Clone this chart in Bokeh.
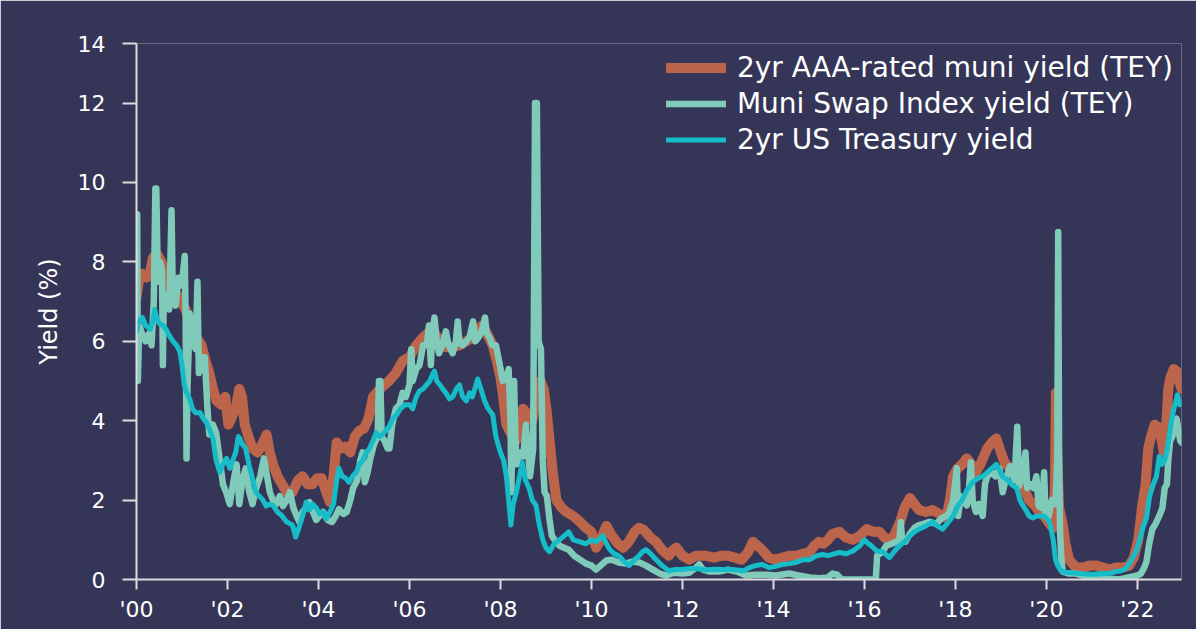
from bokeh.plotting import figure
from bokeh.models import Range1d, FixedTicker, Legend, LegendItem
from bokeh.embed import file_html
from bokeh.resources import INLINE

# ---------------- data (decimal year, yield %) ----------------
muni_aaa_2yr = [
    (2000.00, 7.1), (2000.05, 7.5), (2000.13, 7.7), (2000.22, 7.6), (2000.29, 7.7),
    (2000.36, 8.1), (2000.45, 8.2), (2000.55, 8.0), (2000.62, 7.6), (2000.68, 7.2),
    (2000.78, 7.4), (2000.88, 7.2), (2000.98, 7.0), (2001.08, 6.8), (2001.20, 6.4),
    (2001.32, 6.1), (2001.43, 5.9), (2001.52, 5.5), (2001.60, 5.2), (2001.68, 4.8),
    (2001.76, 4.5), (2001.86, 4.4), (2001.95, 4.6), (2002.02, 3.9), (2002.10, 4.1),
    (2002.18, 4.3), (2002.26, 4.8), (2002.32, 4.6), (2002.38, 3.9), (2002.46, 3.6),
    (2002.55, 3.3), (2002.66, 3.2), (2002.76, 3.4), (2002.86, 3.65), (2002.93, 3.2),
    (2003.00, 2.9), (2003.10, 2.6), (2003.20, 2.4), (2003.30, 2.2), (2003.43, 2.2),
    (2003.55, 2.5), (2003.65, 2.6), (2003.76, 2.4), (2003.87, 2.4), (2003.97, 2.55),
    (2004.07, 2.55), (2004.17, 2.2), (2004.25, 1.95), (2004.33, 2.6), (2004.40, 3.45),
    (2004.50, 3.3), (2004.60, 3.35), (2004.70, 3.2), (2004.80, 3.6), (2004.90, 3.75),
    (2005.00, 3.8), (2005.10, 4.05), (2005.20, 4.6), (2005.35, 4.8), (2005.55, 5.0),
    (2005.70, 5.2), (2005.85, 5.5), (2006.00, 5.6), (2006.15, 5.9), (2006.30, 6.1),
    (2006.45, 6.25), (2006.55, 6.2), (2006.68, 6.0), (2006.80, 5.85), (2006.95, 5.85),
    (2007.10, 5.9), (2007.25, 6.0), (2007.40, 6.1), (2007.52, 6.3), (2007.60, 6.4),
    (2007.70, 6.2), (2007.83, 5.9), (2007.92, 5.5), (2008.00, 5.1), (2008.07, 4.5),
    (2008.13, 3.9), (2008.22, 3.7), (2008.35, 3.5), (2008.42, 3.9), (2008.50, 4.3),
    (2008.60, 4.1), (2008.70, 4.0), (2008.80, 4.6), (2008.88, 5.0), (2008.95, 4.8),
    (2009.02, 4.2), (2009.08, 3.5), (2009.15, 2.7), (2009.23, 2.0), (2009.35, 1.8),
    (2009.45, 1.7), (2009.60, 1.6), (2009.75, 1.45), (2009.88, 1.3), (2010.00, 1.2),
    (2010.10, 0.8), (2010.20, 1.0), (2010.33, 1.35), (2010.45, 1.1), (2010.58, 0.9),
    (2010.70, 0.8), (2010.82, 0.95), (2010.95, 1.2), (2011.05, 1.3), (2011.15, 1.25),
    (2011.30, 1.05), (2011.42, 0.95), (2011.55, 0.75), (2011.70, 0.6), (2011.80, 0.75),
    (2011.87, 0.8), (2012.00, 0.6), (2012.15, 0.5), (2012.30, 0.6), (2012.50, 0.6),
    (2012.70, 0.55), (2012.85, 0.6), (2013.00, 0.6), (2013.15, 0.55), (2013.30, 0.5),
    (2013.45, 0.7), (2013.55, 0.95), (2013.65, 0.85), (2013.75, 0.75), (2013.90, 0.55),
    (2014.05, 0.5), (2014.20, 0.55), (2014.35, 0.6), (2014.50, 0.6), (2014.65, 0.65),
    (2014.80, 0.7), (2014.90, 0.85), (2015.00, 0.95), (2015.10, 0.9), (2015.20, 1.0),
    (2015.30, 1.15), (2015.45, 1.2), (2015.60, 1.05), (2015.75, 1.0), (2015.90, 1.1),
    (2016.05, 1.27), (2016.20, 1.2), (2016.33, 1.2), (2016.45, 1.05), (2016.55, 1.0),
    (2016.65, 1.1), (2016.77, 1.4), (2016.88, 1.8), (2017.00, 2.05), (2017.10, 1.9),
    (2017.20, 1.75), (2017.35, 1.7), (2017.50, 1.75), (2017.65, 1.65), (2017.80, 1.55),
    (2017.88, 2.0), (2017.95, 2.6), (2018.05, 2.8), (2018.15, 2.9), (2018.25, 3.05),
    (2018.35, 2.9), (2018.45, 2.7), (2018.55, 2.9), (2018.70, 3.3), (2018.80, 3.45),
    (2018.90, 3.55), (2019.00, 3.2), (2019.08, 2.95), (2019.20, 2.8), (2019.35, 2.6),
    (2019.50, 2.3), (2019.62, 2.0), (2019.75, 1.85), (2019.85, 1.7), (2019.95, 1.6),
    (2020.07, 1.4), (2020.15, 1.3), (2020.19, 2.5), (2020.21, 4.7), (2020.24, 3.0),
    (2020.28, 1.8), (2020.35, 1.45), (2020.42, 0.9), (2020.50, 0.5), (2020.65, 0.3),
    (2020.80, 0.3), (2020.95, 0.35), (2021.10, 0.35), (2021.25, 0.3), (2021.40, 0.25),
    (2021.53, 0.3), (2021.68, 0.3), (2021.82, 0.35), (2021.92, 0.55), (2022.02, 1.0),
    (2022.10, 1.8), (2022.18, 2.4), (2022.24, 3.3), (2022.30, 3.6), (2022.38, 3.9),
    (2022.45, 3.85), (2022.52, 3.6), (2022.58, 3.2), (2022.63, 3.8), (2022.68, 4.8),
    (2022.73, 5.1), (2022.80, 5.3), (2022.86, 5.25), (2022.92, 5.0), (2022.97, 4.8),
]

muni_swap_index = [
    (2000.00, 5.0), (2000.015, 9.2), (2000.03, 5.0), (2000.06, 6.4), (2000.12, 6.2),
    (2000.20, 6.0), (2000.28, 6.2), (2000.33, 5.9), (2000.38, 7.0), (2000.415, 9.85),
    (2000.435, 9.85), (2000.47, 7.5), (2000.52, 8.0), (2000.56, 7.8), (2000.58, 5.4),
    (2000.60, 7.2), (2000.66, 7.0), (2000.72, 6.8), (2000.77, 9.3), (2000.80, 7.0),
    (2000.86, 6.9), (2000.92, 7.6), (2000.97, 7.4), (2001.02, 7.7), (2001.06, 8.15),
    (2001.08, 6.6), (2001.10, 3.05), (2001.12, 4.8), (2001.17, 6.7), (2001.24, 6.0),
    (2001.30, 5.8), (2001.34, 7.5), (2001.37, 5.2), (2001.43, 5.6), (2001.50, 5.6),
    (2001.56, 4.3), (2001.60, 3.65), (2001.68, 3.9), (2001.75, 3.7), (2001.82, 3.1),
    (2001.90, 2.4), (2001.97, 2.2), (2002.05, 1.9), (2002.12, 2.4), (2002.20, 2.9),
    (2002.26, 1.9), (2002.33, 2.5), (2002.40, 2.8), (2002.48, 2.2), (2002.55, 1.9),
    (2002.63, 2.3), (2002.72, 2.6), (2002.80, 3.05), (2002.87, 2.6), (2002.93, 2.2),
    (2003.00, 2.0), (2003.07, 1.9), (2003.15, 2.1), (2003.22, 1.85), (2003.30, 2.0),
    (2003.37, 2.2), (2003.45, 1.8), (2003.52, 1.6), (2003.58, 1.45), (2003.65, 1.7),
    (2003.72, 1.8), (2003.80, 1.95), (2003.88, 1.7), (2003.95, 1.5), (2004.02, 1.6),
    (2004.10, 1.7), (2004.20, 1.5), (2004.30, 1.45), (2004.38, 1.6), (2004.45, 1.77),
    (2004.55, 1.65), (2004.62, 1.7), (2004.70, 2.0), (2004.76, 2.3), (2004.85, 2.5),
    (2004.92, 3.0), (2004.97, 3.2), (2005.02, 2.45), (2005.08, 2.7), (2005.14, 3.05),
    (2005.22, 3.4), (2005.30, 3.6), (2005.33, 5.0), (2005.36, 5.0), (2005.39, 3.6),
    (2005.45, 3.5), (2005.52, 3.3), (2005.56, 3.3), (2005.62, 3.9), (2005.70, 4.3),
    (2005.78, 4.4), (2005.85, 4.7), (2005.92, 4.6), (2006.00, 4.9), (2006.04, 5.8),
    (2006.07, 5.0), (2006.15, 5.3), (2006.22, 5.4), (2006.30, 5.9), (2006.38, 5.9),
    (2006.43, 6.4), (2006.47, 5.4), (2006.50, 6.2), (2006.55, 6.6), (2006.60, 6.0),
    (2006.65, 5.7), (2006.72, 5.9), (2006.80, 6.25), (2006.86, 5.9), (2006.95, 5.7),
    (2007.02, 6.0), (2007.06, 6.5), (2007.10, 5.95), (2007.17, 5.9), (2007.25, 6.0),
    (2007.32, 6.1), (2007.40, 6.5), (2007.45, 6.0), (2007.52, 6.1), (2007.60, 6.3),
    (2007.66, 6.6), (2007.70, 6.2), (2007.76, 6.1), (2007.82, 5.9), (2007.90, 5.9),
    (2007.97, 5.5), (2008.05, 5.0), (2008.12, 5.1), (2008.18, 5.3), (2008.22, 4.0),
    (2008.24, 2.2), (2008.27, 4.5), (2008.30, 5.0), (2008.33, 3.5), (2008.36, 2.9),
    (2008.42, 3.2), (2008.50, 3.1), (2008.56, 3.9), (2008.60, 3.3), (2008.65, 2.6),
    (2008.72, 3.3), (2008.76, 12.0), (2008.80, 12.0), (2008.84, 6.0), (2008.89, 5.8),
    (2008.93, 3.0), (2008.97, 2.2), (2009.02, 2.1), (2009.08, 1.5), (2009.13, 1.1),
    (2009.22, 0.95), (2009.30, 0.85), (2009.40, 0.8), (2009.50, 0.75), (2009.62, 0.6),
    (2009.75, 0.5), (2009.88, 0.4), (2010.00, 0.35), (2010.10, 0.25), (2010.20, 0.35),
    (2010.33, 0.48), (2010.45, 0.5), (2010.60, 0.43), (2010.75, 0.4), (2010.90, 0.45),
    (2011.05, 0.43), (2011.20, 0.35), (2011.35, 0.25), (2011.50, 0.15), (2011.65, 0.1),
    (2011.80, 0.17), (2012.00, 0.15), (2012.15, 0.17), (2012.30, 0.3), (2012.37, 0.38),
    (2012.45, 0.25), (2012.60, 0.2), (2012.80, 0.2), (2013.00, 0.25), (2013.20, 0.2),
    (2013.40, 0.1), (2013.60, 0.12), (2013.85, 0.12), (2014.05, 0.1), (2014.35, 0.15),
    (2014.55, 0.1), (2014.80, 0.05), (2015.00, 0.03), (2015.20, 0.05), (2015.30, 0.15),
    (2015.40, 0.12), (2015.50, 0.0), (2015.90, 0.0), (2016.25, 0.0), (2016.28, 0.6),
    (2016.40, 0.7), (2016.48, 0.85), (2016.60, 0.9), (2016.70, 0.95), (2016.77, 1.0),
    (2016.80, 1.45), (2016.83, 0.95), (2016.90, 0.95), (2017.00, 1.15), (2017.10, 1.3),
    (2017.20, 1.37), (2017.30, 1.4), (2017.43, 1.45), (2017.58, 1.4), (2017.70, 1.55),
    (2017.80, 1.6), (2017.87, 1.7), (2017.95, 2.0), (2018.03, 2.8), (2018.06, 1.6),
    (2018.12, 2.1), (2018.20, 1.95), (2018.25, 1.87), (2018.30, 2.3), (2018.34, 2.95),
    (2018.38, 2.0), (2018.45, 1.7), (2018.52, 1.9), (2018.60, 1.6), (2018.65, 2.4),
    (2018.70, 2.6), (2018.80, 2.7), (2018.88, 2.6), (2018.97, 2.8), (2019.04, 2.2),
    (2019.10, 2.5), (2019.20, 2.85), (2019.30, 2.5), (2019.36, 3.85), (2019.40, 2.35),
    (2019.48, 2.6), (2019.54, 3.2), (2019.58, 2.3), (2019.65, 2.4), (2019.72, 2.3),
    (2019.78, 2.6), (2019.83, 1.85), (2019.90, 1.8), (2019.95, 2.7), (2019.98, 1.65),
    (2020.05, 1.6), (2020.12, 2.0), (2020.20, 1.9), (2020.24, 3.1), (2020.26, 8.75),
    (2020.28, 3.1), (2020.30, 1.2), (2020.33, 0.5), (2020.36, 0.2), (2020.50, 0.15),
    (2020.65, 0.15), (2020.80, 0.1), (2020.95, 0.05), (2021.15, 0.0), (2021.40, 0.02),
    (2021.60, 0.0), (2021.80, 0.05), (2022.00, 0.1), (2022.08, 0.15), (2022.15, 0.3),
    (2022.20, 0.45), (2022.26, 0.9), (2022.33, 1.27), (2022.40, 1.4), (2022.48, 1.6),
    (2022.55, 1.8), (2022.60, 2.3), (2022.65, 2.4), (2022.68, 3.0), (2022.72, 3.5),
    (2022.77, 3.6), (2022.82, 3.9), (2022.86, 4.05), (2022.90, 3.8), (2022.94, 3.5),
    (2022.97, 3.45),
]

ust_2yr = [
    (2000.00, 6.25), (2000.05, 6.5), (2000.13, 6.6), (2000.20, 6.4), (2000.30, 6.3),
    (2000.36, 6.5), (2000.40, 6.8), (2000.45, 6.55), (2000.50, 6.45), (2000.58, 6.4),
    (2000.65, 6.3), (2000.72, 6.15), (2000.80, 6.0), (2000.88, 5.9), (2000.95, 5.75),
    (2001.00, 5.4), (2001.05, 4.9), (2001.10, 4.7), (2001.17, 4.55), (2001.23, 4.3),
    (2001.30, 4.2), (2001.40, 4.2), (2001.47, 4.05), (2001.53, 3.97), (2001.60, 3.8),
    (2001.68, 3.55), (2001.75, 3.0), (2001.83, 2.7), (2001.90, 2.9), (2001.98, 3.05),
    (2002.05, 2.8), (2002.10, 2.95), (2002.18, 3.2), (2002.24, 3.6), (2002.27, 3.55),
    (2002.33, 3.4), (2002.40, 3.3), (2002.47, 2.9), (2002.55, 2.55), (2002.62, 2.2),
    (2002.70, 2.1), (2002.78, 2.0), (2002.85, 1.85), (2002.92, 1.9), (2003.00, 1.87),
    (2003.10, 1.7), (2003.20, 1.6), (2003.30, 1.45), (2003.38, 1.4), (2003.43, 1.37),
    (2003.50, 1.07), (2003.57, 1.3), (2003.65, 1.6), (2003.73, 1.95), (2003.80, 1.75),
    (2003.87, 1.9), (2003.95, 1.8), (2004.03, 1.65), (2004.10, 1.7), (2004.17, 1.53),
    (2004.25, 1.7), (2004.33, 1.9), (2004.40, 2.5), (2004.45, 2.8), (2004.52, 2.6),
    (2004.60, 2.55), (2004.67, 2.45), (2004.75, 2.6), (2004.83, 2.7), (2004.90, 2.9),
    (2004.97, 3.0), (2005.05, 3.2), (2005.12, 3.3), (2005.20, 3.5), (2005.27, 3.7),
    (2005.35, 3.6), (2005.45, 3.7), (2005.55, 3.85), (2005.63, 4.05), (2005.72, 4.15),
    (2005.80, 4.3), (2005.90, 4.4), (2006.00, 4.4), (2006.07, 4.3), (2006.15, 4.6),
    (2006.22, 4.75), (2006.30, 4.8), (2006.37, 4.9), (2006.45, 5.0), (2006.50, 5.15),
    (2006.55, 5.25), (2006.60, 5.0), (2006.67, 4.9), (2006.73, 4.8), (2006.80, 4.7),
    (2006.88, 4.55), (2006.95, 4.6), (2007.03, 4.8), (2007.10, 4.9), (2007.17, 4.6),
    (2007.25, 4.5), (2007.32, 4.7), (2007.38, 4.6), (2007.45, 4.85), (2007.50, 5.05),
    (2007.57, 4.8), (2007.65, 4.5), (2007.73, 4.3), (2007.83, 4.15), (2007.90, 3.6),
    (2008.00, 3.2), (2008.07, 3.0), (2008.13, 2.6), (2008.18, 2.0), (2008.23, 1.37),
    (2008.28, 1.9), (2008.35, 2.2), (2008.42, 2.6), (2008.48, 2.95), (2008.55, 2.5),
    (2008.63, 2.3), (2008.70, 2.0), (2008.78, 1.87), (2008.85, 1.4), (2008.93, 1.0),
    (2009.00, 0.8), (2009.08, 0.7), (2009.18, 0.9), (2009.30, 1.0), (2009.40, 1.1),
    (2009.50, 1.2), (2009.60, 1.0), (2009.75, 0.95), (2009.88, 0.9), (2010.00, 1.0),
    (2010.10, 0.95), (2010.25, 1.1), (2010.33, 0.9), (2010.40, 0.76), (2010.50, 0.65),
    (2010.60, 0.6), (2010.72, 0.45), (2010.83, 0.35), (2010.95, 0.5), (2011.05, 0.6),
    (2011.12, 0.7), (2011.20, 0.75), (2011.30, 0.65), (2011.42, 0.5), (2011.55, 0.35),
    (2011.70, 0.22), (2011.85, 0.25), (2012.00, 0.25), (2012.20, 0.28), (2012.35, 0.27),
    (2012.50, 0.24), (2012.70, 0.26), (2012.90, 0.25), (2013.05, 0.25), (2013.20, 0.24),
    (2013.35, 0.22), (2013.47, 0.3), (2013.60, 0.35), (2013.75, 0.38), (2013.90, 0.3),
    (2014.05, 0.33), (2014.20, 0.38), (2014.35, 0.4), (2014.50, 0.43), (2014.65, 0.5),
    (2014.80, 0.5), (2014.95, 0.6), (2015.08, 0.63), (2015.20, 0.6), (2015.35, 0.65),
    (2015.45, 0.68), (2015.60, 0.65), (2015.75, 0.72), (2015.90, 0.85), (2016.00, 1.0),
    (2016.05, 0.94), (2016.15, 0.85), (2016.27, 0.72), (2016.40, 0.7), (2016.55, 0.55),
    (2016.65, 0.7), (2016.77, 0.85), (2016.88, 0.95), (2017.00, 1.1), (2017.10, 1.2),
    (2017.20, 1.27), (2017.35, 1.35), (2017.50, 1.45), (2017.60, 1.35), (2017.72, 1.27),
    (2017.85, 1.45), (2017.95, 1.6), (2018.05, 1.85), (2018.15, 2.0), (2018.25, 2.25),
    (2018.38, 2.45), (2018.50, 2.55), (2018.60, 2.6), (2018.70, 2.7), (2018.80, 2.8),
    (2018.90, 2.9), (2018.97, 2.75), (2019.03, 2.6), (2019.15, 2.5), (2019.25, 2.38),
    (2019.35, 2.3), (2019.42, 2.0), (2019.48, 1.87), (2019.55, 1.75), (2019.62, 1.6),
    (2019.70, 1.55), (2019.78, 1.6), (2019.85, 1.6), (2019.95, 1.6), (2020.07, 1.45),
    (2020.15, 1.0), (2020.20, 0.5), (2020.25, 0.35), (2020.30, 0.25), (2020.40, 0.18),
    (2020.55, 0.17), (2020.70, 0.15), (2020.85, 0.14), (2021.00, 0.13), (2021.10, 0.14),
    (2021.25, 0.15), (2021.40, 0.16), (2021.53, 0.2), (2021.65, 0.22), (2021.75, 0.28),
    (2021.85, 0.45), (2021.97, 0.7), (2022.05, 1.0), (2022.12, 1.3), (2022.20, 1.55),
    (2022.27, 2.1), (2022.35, 2.4), (2022.42, 2.6), (2022.48, 3.1), (2022.54, 2.9),
    (2022.60, 3.0), (2022.66, 3.3), (2022.70, 3.6), (2022.75, 4.0), (2022.80, 4.3),
    (2022.85, 4.5), (2022.88, 4.65), (2022.93, 4.4), (2022.97, 4.45),
]

series_labels = [
    "2yr AAA-rated muni yield (TEY)",
    "Muni Swap Index yield (TEY)",
    "2yr US Treasury yield",
]
x_tick_years = list(range(2000, 2023, 2))
x_tick_labels = ["'00", "'02", "'04", "'06", "'08", "'10", "'12", "'14", "'16", "'18", "'20", "'22"]
y_tick_values = [0, 2, 4, 6, 8, 10, 12, 13.5]
y_tick_labels = ["0", "2", "4", "6", "8", "10", "12", "14"]

# ---------------- styling ----------------
NAVY = "#353657"
ORANGE = "#BD654A"
MINT = "#80CAB9"
CYAN = "#16BCC8"
AXIS = "#DCDCE0"
FONT = "DejaVu Sans"

p = figure(
    width=1196, height=629,
    output_backend="svg", toolbar_location=None,
    x_range=Range1d(2000, 2022.97), y_range=Range1d(0, 13.5),
    min_border_left=136, min_border_right=15, min_border_top=43, min_border_bottom=50,
)
p.background_fill_color = NAVY
p.border_fill_color = NAVY
p.outline_line_color = None
p.grid.visible = False

def split(pairs):
    return [a for a, _ in pairs], [b for _, b in pairs]

mx, my = split(muni_aaa_2yr)
sx, sy = split(muni_swap_index)
tx, ty = split(ust_2yr)

r1 = p.line(mx, my, line_color=ORANGE, line_width=10, line_cap="round", line_join="round")
r2 = p.line(sx, sy, line_color=MINT, line_width=6.5, line_cap="round", line_join="round")
r3 = p.line(tx, ty, line_color=CYAN, line_width=5, line_cap="round", line_join="round")

# axes
xa = p.xaxis[0]
xa.ticker = FixedTicker(ticks=x_tick_years, minor_ticks=[])
xa.major_label_overrides = {yr: lab for yr, lab in zip(x_tick_years, x_tick_labels)}
ya = p.yaxis[0]
ya.ticker = FixedTicker(ticks=y_tick_values, minor_ticks=[])
ya.major_label_overrides = {v: lab for v, lab in zip(y_tick_values, y_tick_labels)}

for ax in (xa, ya):
    ax.axis_line_color = AXIS
    ax.axis_line_width = 2
    ax.major_tick_line_color = AXIS
    ax.major_tick_line_width = 2
    ax.major_tick_in = 0
    ax.minor_tick_line_color = None
    ax.major_label_text_color = "white"
    ax.major_label_text_font = FONT
    ax.major_label_text_font_size = "22px"

xa.major_tick_out = 10
xa.major_label_standoff = 7
ya.major_tick_out = 14
ya.major_label_standoff = 17
ya.axis_label = "Yield (%)"
ya.axis_label_text_color = "white"
ya.axis_label_text_font = FONT
ya.axis_label_text_font_size = "24px"
ya.axis_label_text_font_style = "normal"
ya.axis_label_standoff = 12

legend = Legend(
    items=[
        LegendItem(label=series_labels[0], renderers=[r1]),
        LegendItem(label=series_labels[1], renderers=[r2]),
        LegendItem(label=series_labels[2], renderers=[r3]),
    ],
    location="top_right",
    background_fill_alpha=0,
    border_line_color=None,
    label_text_color="white",
    label_text_font=FONT,
    label_text_font_size="28px",
    glyph_width=60,
    glyph_height=33,
    label_height=33,
    label_standoff=11,
    spacing=3,
    padding=0,
    margin=8,
)
p.add_layout(legend)

open("out.html", "w").write(file_html(p, INLINE))
